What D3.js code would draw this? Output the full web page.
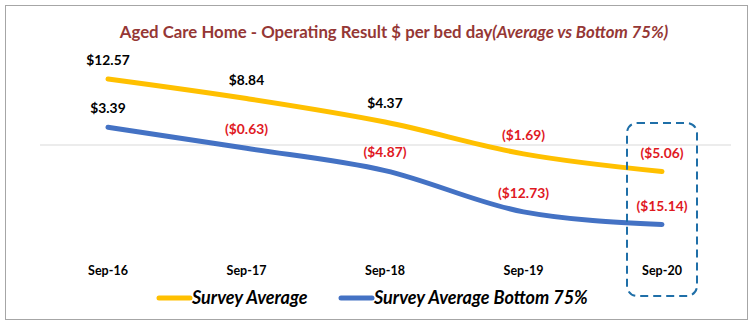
<!DOCTYPE html>
<html><head><meta charset="utf-8">
<script src="https://cdn.jsdelivr.net/npm/d3@7"></script>
<style>body{margin:0;background:#fff}svg{display:block}</style>
</head><body>
<script>
const categories = ["Sep-16","Sep-17","Sep-18","Sep-19","Sep-20"];
const surveyAverage = [12.57, 8.84, 4.37, -1.69, -5.06];
const surveyBottom75 = [3.39, -0.63, -4.87, -12.73, -15.14];
const seriesNames = ["Survey Average","Survey Average Bottom 75%"];
const titleMain = "Aged Care Home - Operating Result $ per bed day";
const titleItalic = "(Average vs Bottom 75%)";

const W = 753, H = 330;
const FONT = "Lato, 'Open Sans', sans-serif";
const svg = d3.select("body").append("svg").attr("width", W).attr("height", H);

svg.append("rect").attr("x",5.5).attr("y",5.5).attr("width",742).attr("height",314)
  .attr("fill","#fff").attr("stroke","#a6a6a6").attr("stroke-width",1);

const title = svg.append("text").attr("x",394).attr("y",38).attr("text-anchor","middle")
  .attr("font-family",FONT).attr("font-size",16.8).attr("font-weight","bold").attr("fill","#953735");
title.append("tspan").text(titleMain);
title.append("tspan").attr("font-style","italic").text(titleItalic);

const x = d3.scalePoint().domain(categories).range([108, 662]);
const y = d3.scaleLinear().domain([-15.14, 12.57]).range([224.5, 79]);

// zero gridline
svg.append("line").attr("x1",40).attr("x2",731).attr("y1",y(0)).attr("y2",y(0))
  .attr("stroke","#d9d9d9").attr("stroke-width",1);

const line = d3.line().x((d,i)=>x(categories[i])).y(d=>y(d)).curve(d3.curveMonotoneX);
const series = [
  {name: seriesNames[0], values: surveyAverage, color:"#FFC000"},
  {name: seriesNames[1], values: surveyBottom75, color:"#4472C4"}
];
series.forEach(s=>{
  svg.append("path").datum(s.values).attr("d",line).attr("fill","none")
    .attr("stroke",s.color).attr("stroke-width",5).attr("stroke-linecap","round").attr("stroke-linejoin","round");
});

const fmt = v => v < 0 ? "($" + Math.abs(v).toFixed(2) + ")" : "$" + v.toFixed(2);
series.forEach(s=>{
  svg.selectAll(null).data(s.values).enter().append("text")
    .attr("x",(d,i)=>x(categories[i]))
    .attr("y",d=>y(d)-14)
    .attr("text-anchor","middle").attr("font-family",FONT).attr("font-size",13.8).attr("font-weight","bold")
    .attr("fill",d=> d<0 ? "#e0191f" : "#000")
    .text(fmt);
});

// category labels
svg.selectAll(null).data(categories).enter().append("text")
  .attr("x",d=>x(d)).attr("y",275).attr("text-anchor","middle")
  .attr("font-family",FONT).attr("font-size",12.5).attr("font-weight","bold").attr("fill","#000").text(d=>d);

// legend
const legendX = [157, 339];
series.forEach((s,i)=>{
  const g = svg.append("g").attr("transform",`translate(${legendX[i]},298)`);
  g.append("line").attr("x1",2).attr("x2",33).attr("y1",0).attr("y2",0)
    .attr("stroke",s.color).attr("stroke-width",5).attr("stroke-linecap","round");
  g.append("text").attr("x",35).attr("y",6).attr("font-family",FONT).attr("font-size",18)
    .attr("font-style","italic").attr("font-weight","bold").attr("fill","#000").text(s.name);
});

// highlight box around last category
svg.append("rect").attr("x",x(categories[4])-35).attr("y",123).attr("width",70).attr("height",173)
  .attr("rx",10).attr("fill","none").attr("stroke","#1f6fa8").attr("stroke-width",2)
  .attr("stroke-dasharray","8,5");
</script>
</body></html>
